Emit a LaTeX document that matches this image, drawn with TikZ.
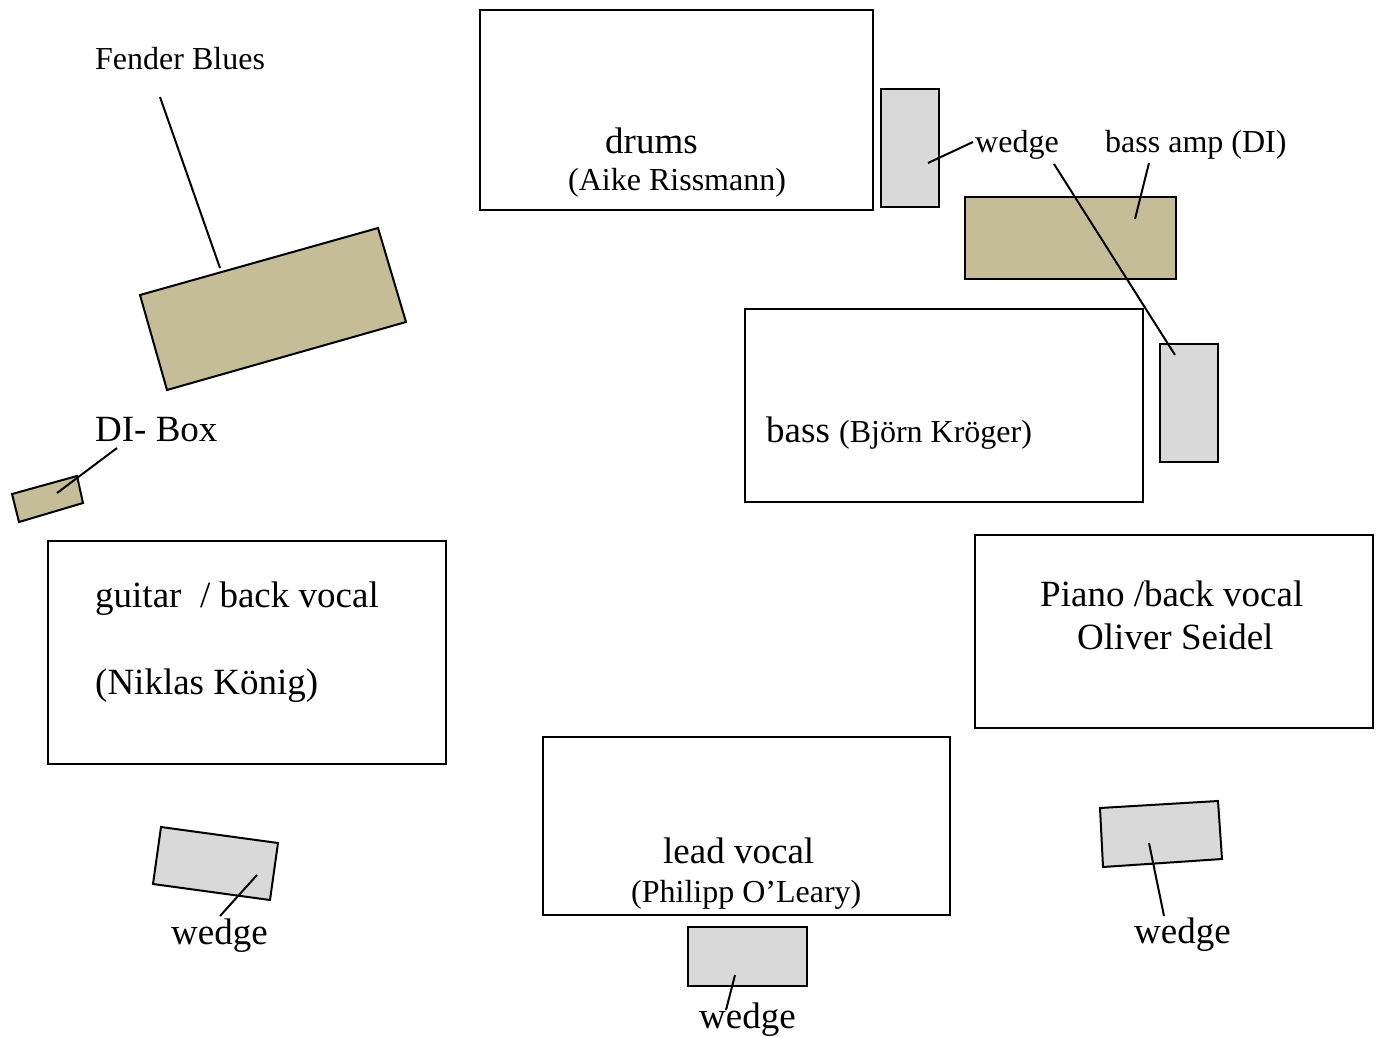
\documentclass[tikz,border=0pt]{standalone}
\usepackage{fontspec}
\setmainfont{Liberation Serif}
\definecolor{tanfill}{HTML}{C4BD97}
\definecolor{wedgefill}{HTML}{D9D9D9}
\tikzset{
  box/.style={draw=black, line width=2pt, fill=white},
  amp/.style={draw=black, line width=2pt, fill=tanfill},
  wedgebox/.style={draw=black, line width=2pt, fill=wedgefill},
  leader/.style={draw=black, line width=2pt},
  bigtxt/.style={inner sep=0pt, anchor=base west, font=\fontsize{37}{40}\selectfont},
  smalltxt/.style={inner sep=0pt, anchor=base west, font=\fontsize{32}{36}\selectfont},
}
\begin{document}
\begin{tikzpicture}[x=1pt,y=-1pt]
\fill[white] (0,0) rectangle (1380,1036);
\useasboundingbox (0,0) rectangle (1380,1036);

% stage boxes
\draw[box] (480,10) rectangle (873,210);
\draw[box] (745,309) rectangle (1143,502);
\draw[box] (48,541) rectangle (446,764);
\draw[box] (975,535) rectangle (1373,728);
\draw[box] (543,737) rectangle (950,915);

% amps
\draw[amp] (140,295) -- (378,228) -- (406,322) -- (167,390) -- cycle;
\draw[amp] (12,494) -- (77,476) -- (83,503) -- (19,522) -- cycle;
\draw[amp] (965,197) rectangle (1176,279);

% wedges
\draw[wedgebox] (881,89) rectangle (939,207);
\draw[wedgebox] (1160,344) rectangle (1218,462);
\draw[wedgebox] (161,827) -- (278,843) -- (270,900) -- (153,884) -- cycle;
\draw[wedgebox] (688,927) rectangle (807,986);
\draw[wedgebox] (1100,808) -- (1218,801) -- (1222,859) -- (1103,867) -- cycle;

% labels
\node[smalltxt] (fender) at (95,69) {Fender Blues};
\node[bigtxt] (drums) at (605,153) {drums};
\node[smalltxt] (aike) at (568,190) {(Aike Rissmann)};
\node[smalltxt] (wedgetop) at (975,152) {wedge};
\node[smalltxt] (bassamp) at (1105,152) {bass amp (DI)};
\node[bigtxt] (bass) at (766,442) {bass {\fontsize{32}{36}\selectfont (Björn Kröger)}};
\node[bigtxt] (dibox) at (95,441) {DI- Box};
\node[bigtxt] (guitar) at (95,607) {guitar\ \ / back vocal};
\node[bigtxt] (niklas) at (95,694) {(Niklas König)};
\node[bigtxt] (piano) at (1040,606) {Piano /back vocal};
\node[bigtxt] (oliver) at (1077,649) {Oliver Seidel};
\node[bigtxt] (lead) at (663,863) {lead vocal};
\node[smalltxt] (philipp) at (631,902) {(Philipp O’Leary)};
\node[bigtxt] (wedgeL) at (171,944) {wedge};
\node[bigtxt] (wedgeR) at (1134,943) {wedge};
\node[bigtxt] (wedgeB) at (699,1028) {wedge};

% leader end points
\coordinate (fA) at (160,97);   \coordinate (fB) at (220,268);
\coordinate (tA) at (928,163);  \coordinate (tB) at (973,142);
\coordinate (bA) at (1149,163); \coordinate (bB) at (1135,219);
\coordinate (lA) at (1054,164); \coordinate (lB) at (1175,355);
\coordinate (dA) at (117,448);  \coordinate (dB) at (57,493);
\coordinate (wlA) at (257,875); \coordinate (wlB) at (220,916);
\coordinate (wbA) at (735,975); \coordinate (wbB) at (726,1010);
\coordinate (wrA) at (1149,843);\coordinate (wrB) at (1164,916);

\draw[leader] (fA) -- (fB);
\draw[leader] (tA) -- (tB);
\draw[leader] (bA) -- (bB);
\draw[leader] (lA) -- (lB);
\draw[leader] (dA) -- (dB);
\draw[leader] (wlA) -- (wlB);
\draw[leader] (wbA) -- (wbB);
\draw[leader] (wrA) -- (wrB);
\end{tikzpicture}
\end{document}
